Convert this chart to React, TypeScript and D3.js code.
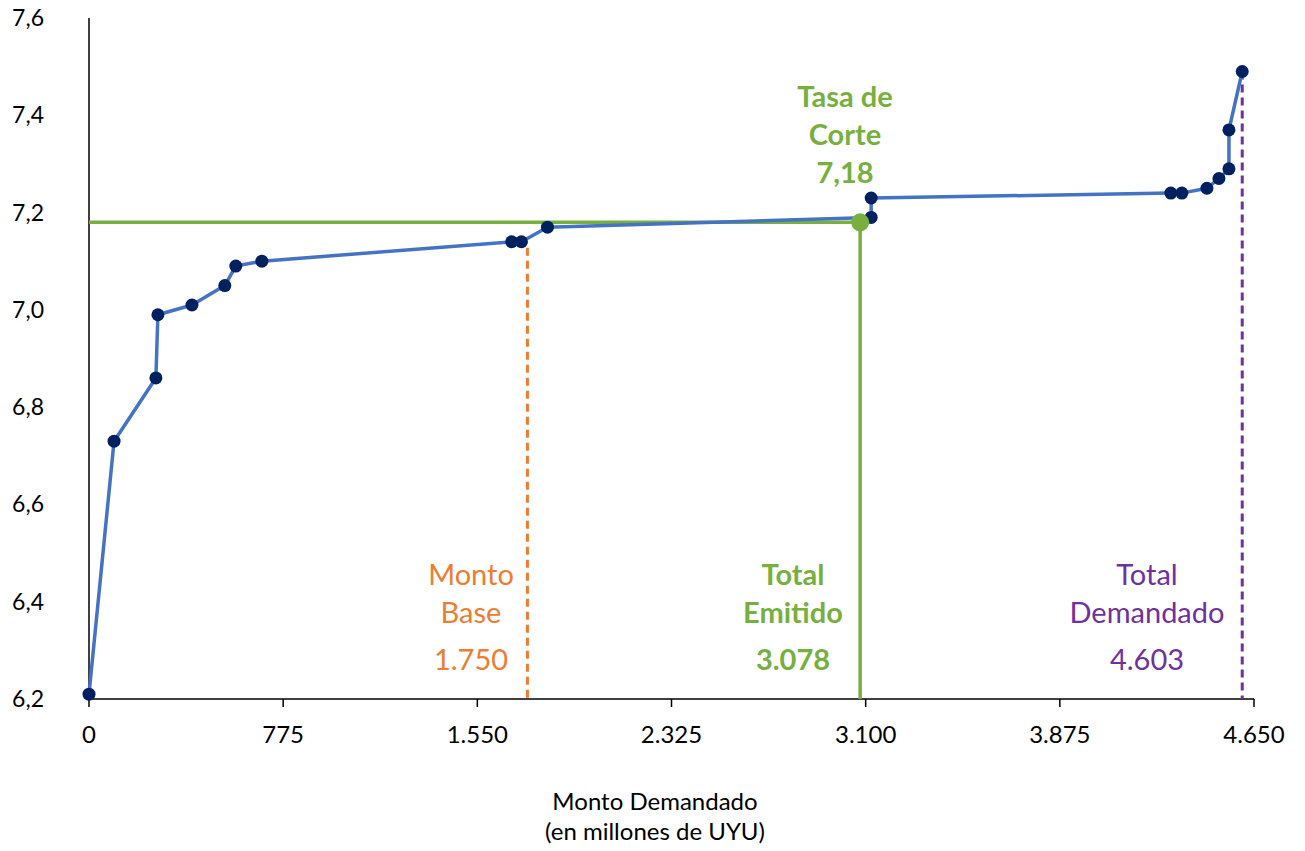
import * as d3 from 'd3'

// demand curve (amount in millions UYU, rate %)
const AMOUNTS = [0, 100, 267, 275, 411, 542, 586, 690, 1687, 1726, 1830, 3122, 3122, 4318, 4362, 4462, 4510, 4550, 4550, 4603]
const RATES = [6.21, 6.73, 6.86, 6.99, 7.01, 7.05, 7.09, 7.10, 7.14, 7.14, 7.17, 7.19, 7.23, 7.24, 7.24, 7.25, 7.27, 7.29, 7.37, 7.49]

const X_TICKS = [0, 775, 1550, 2325, 3100, 3875, 4650]
const Y_TICKS = [6.2, 6.4, 6.6, 6.8, 7.0, 7.2, 7.4, 7.6]

const BASE_AMOUNT = 1750
const ISSUED_AMOUNT = 3078
const CUT_RATE = 7.18
const TOTAL_DEMAND = 4603

const W = 1305
const H = 851
const FONT = 'Lato, "Open Sans", sans-serif'

const BLUE = '#4472C4'
const NAVY = '#002060'
const GREEN = '#77B03E'
const ORANGE = '#ED7D31'
const PURPLE = '#7030A0'

const fmtX = (v: number) => (v === 0 ? '0' : d3.format(',')(v).replace(/,/g, '.'))
const fmtY = (v: number) => v.toFixed(1).replace('.', ',')

export default function App() {
  const x = d3.scaleLinear().domain([0, 4650]).range([89, 1254])
  const y = d3.scaleLinear().domain([6.2, 7.6]).range([699, 18])

  const pts = AMOUNTS.map((a, i) => [a, RATES[i]] as [number, number])
  const line = d3.line<[number, number]>().x((d) => x(d[0])).y((d) => y(d[1]))

  const label = (cx: number, lines: string[], baselines: number[], color: string, bold: boolean) => (
    <text fill={color} fontSize={29} fontWeight={bold ? 700 : 400} textAnchor="middle" fontFamily={FONT}>
      {lines.map((t, i) => (
        <tspan key={i} x={cx} y={baselines[i]}>{t}</tspan>
      ))}
    </text>
  )

  return (
    <svg width={W} height={H} style={{ position: 'absolute', left: 0, top: 0, background: '#fff' }}>
      {/* axes */}
      <line x1={x(0)} x2={x(0)} y1={y(7.6)} y2={y(6.2)} stroke="#000" strokeWidth={1.5} />
      <line x1={x(0)} x2={x(4650)} y1={y(6.2)} y2={y(6.2)} stroke="#000" strokeWidth={1.5} />
      {X_TICKS.map((t) => (
        <g key={t}>
          <line x1={x(t)} x2={x(t)} y1={y(6.2)} y2={y(6.2) + 8} stroke="#000" strokeWidth={1.5} />
          <text x={x(t)} y={743} textAnchor="middle" fontSize={24} fontFamily={FONT} fill="#000">
            {fmtX(t)}
          </text>
        </g>
      ))}
      {Y_TICKS.map((t) => (
        <text key={t} x={44} y={y(t) + 8} textAnchor="end" fontSize={23} fontFamily={FONT} fill="#000">
          {fmtY(t)}
        </text>
      ))}
      <text textAnchor="middle" fontSize={24} fontFamily={FONT} fill="#000">
        <tspan x={655} y={810}>Monto Demandado</tspan>
        <tspan x={655} y={840}>(en millones de UYU)</tspan>
      </text>

      {/* reference lines */}
      <line x1={x(0)} x2={x(ISSUED_AMOUNT)} y1={y(CUT_RATE)} y2={y(CUT_RATE)} stroke={GREEN} strokeWidth={3.5} />
      <line x1={x(ISSUED_AMOUNT)} x2={x(ISSUED_AMOUNT)} y1={y(CUT_RATE)} y2={y(6.2)} stroke={GREEN} strokeWidth={3.5} />
      <line x1={x(BASE_AMOUNT)} x2={x(BASE_AMOUNT)} y1={y(7.14) + 6} y2={y(6.2)} stroke={ORANGE} strokeWidth={3} strokeDasharray="8,5" />
      <line x1={x(TOTAL_DEMAND)} x2={x(TOTAL_DEMAND)} y1={y(7.49)} y2={y(6.2)} stroke={PURPLE} strokeWidth={3} strokeDasharray="8,5" />

      {/* demand curve */}
      <path d={line(pts) ?? ''} fill="none" stroke={BLUE} strokeWidth={3.5} strokeLinejoin="round" />
      {pts.map((d, i) => (
        <circle key={i} cx={x(d[0])} cy={y(d[1])} r={6.5} fill={NAVY} />
      ))}
      <circle cx={x(ISSUED_AMOUNT)} cy={y(CUT_RATE)} r={9} fill={GREEN} />

      {/* annotations */}
      {label(845, ['Tasa de', 'Corte', '7,18'], [107, 145, 183], GREEN, true)}
      {label(471, ['Monto', 'Base', '1.750'], [585, 623, 670], ORANGE, false)}
      {label(793, ['Total', 'Emitido', '3.078'], [585, 623, 670], GREEN, true)}
      {label(1147, ['Total', 'Demandado', '4.603'], [585, 623, 670], PURPLE, false)}
    </svg>
  )
}
